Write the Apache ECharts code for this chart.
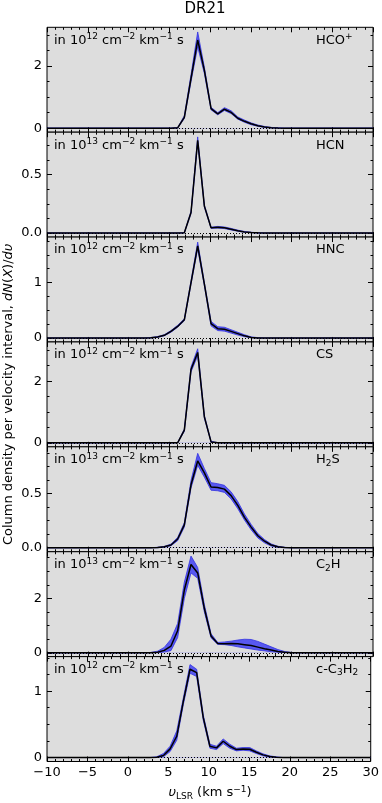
<!DOCTYPE html>
<html>
<head>
<meta charset="UTF-8">
<title>DR21</title>
<script src="https://cdn.jsdelivr.net/npm/echarts@6/dist/echarts.min.js"></script>
<style>
  html, body { margin: 0; padding: 0; background: #fff; }
  #chart { width: 382px; height: 803px; }
</style>
</head>
<body>
<div id="chart"></div>
<script>
  // velocity channels (km/s)
  var vel = [-10, 1.93, 2.75, 3.57, 4.39, 5.21, 6.03, 6.85, 7.67, 8.49, 9.31, 10.13, 10.95,
    11.77, 12.59, 13.41, 14.23, 15.05, 15.87, 16.69, 17.51, 18.33, 19.15, 19.97, 20.79, 30];

  var hcoMid = [0, 0, 0, 0, 0, 0, 0.01, 0.35, 1.6, 2.84, 1.86, 0.63, 0.46, 0.61, 0.51, 0.32, 0.22, 0.14, 0.08, 0.04, 0.015, 0.005, 0, 0, 0, 0];
  var hcoLo = [0, 0, 0, 0, 0, 0, 0, 0.31, 1.5, 2.62, 1.76, 0.59, 0.43, 0.57, 0.47, 0.29, 0.19, 0.11, 0.06, 0.025, 0.008, 0, 0, 0, 0, 0];
  var hcoHi = [0, 0, 0, 0, 0, 0, 0.02, 0.4, 1.72, 3.1, 1.96, 0.67, 0.5, 0.66, 0.56, 0.36, 0.26, 0.17, 0.1, 0.055, 0.025, 0.01, 0, 0, 0, 0];

  var hcnMid = [0, 0, 0, 0, 0, 0, 0, 0.003, 0.175, 0.79, 0.23, 0.045, 0.05, 0.045, 0.033, 0.02, 0.01, 0.005, 0.002, 0, 0, 0, 0, 0, 0, 0];
  var hcnLo = [0, 0, 0, 0, 0, 0, 0, 0, 0.165, 0.77, 0.22, 0.04, 0.043, 0.038, 0.027, 0.016, 0.007, 0.003, 0, 0, 0, 0, 0, 0, 0, 0];
  var hcnHi = [0, 0, 0, 0, 0, 0, 0, 0.005, 0.185, 0.82, 0.24, 0.05, 0.057, 0.052, 0.04, 0.025, 0.014, 0.007, 0.003, 0, 0, 0, 0, 0, 0, 0];

  var hncMid = [0, 0, 0.005, 0.02, 0.05, 0.12, 0.21, 0.33, 1.0, 1.66, 0.97, 0.26, 0.17, 0.16, 0.12, 0.08, 0.04, 0.012, 0.003, 0, 0, 0, 0, 0, 0, 0];
  var hncLo = [0, 0, 0, 0.012, 0.04, 0.105, 0.195, 0.31, 0.97, 1.61, 0.94, 0.22, 0.135, 0.125, 0.09, 0.055, 0.025, 0.005, 0, 0, 0, 0, 0, 0, 0, 0];
  var hncHi = [0, 0, 0.01, 0.028, 0.06, 0.135, 0.23, 0.35, 1.03, 1.73, 1.0, 0.3, 0.205, 0.195, 0.15, 0.105, 0.06, 0.022, 0.008, 0, 0, 0, 0, 0, 0, 0];

  var csMid = [0, 0, 0, 0, 0, 0, 0, 0.41, 2.38, 2.93, 0.84, 0.03, 0, 0, 0, 0, 0, 0, 0, 0, 0, 0, 0, 0, 0, 0];
  var csLo = [0, 0, 0, 0, 0, 0, 0, 0.37, 2.3, 2.82, 0.79, 0.02, 0, 0, 0, 0, 0, 0, 0, 0, 0, 0, 0, 0, 0, 0];
  var csHi = [0, 0, 0, 0, 0, 0, 0.01, 0.45, 2.46, 3.05, 0.89, 0.05, 0.005, 0, 0, 0, 0, 0, 0, 0, 0, 0, 0, 0, 0, 0];

  var h2sMid = [0, 0, 0, 0.002, 0.008, 0.025, 0.08, 0.21, 0.58, 0.8, 0.69, 0.56, 0.555, 0.54, 0.48, 0.39, 0.28, 0.19, 0.11, 0.06, 0.025, 0.008, 0.002, 0, 0, 0];
  var h2sLo = [0, 0, 0, 0, 0.004, 0.018, 0.065, 0.19, 0.55, 0.76, 0.65, 0.53, 0.525, 0.51, 0.45, 0.36, 0.255, 0.165, 0.09, 0.045, 0.015, 0.003, 0, 0, 0, 0];
  var h2sHi = [0, 0, 0, 0.004, 0.012, 0.033, 0.095, 0.23, 0.62, 0.87, 0.73, 0.6, 0.59, 0.575, 0.515, 0.425, 0.31, 0.215, 0.13, 0.075, 0.035, 0.013, 0.004, 0, 0, 0];

  var c2hMid = [0, 0, 0.005, 0.02, 0.09, 0.25, 0.81, 2.31, 3.25, 2.94, 1.63, 0.62, 0.34, 0.33, 0.34, 0.33, 0.3, 0.27, 0.21, 0.15, 0.1, 0.05, 0.02, 0.005, 0, 0];
  var c2hLo = [0, 0, 0, 0.005, 0.03, 0.08, 0.56, 2.0, 2.94, 2.74, 1.5, 0.55, 0.31, 0.3, 0.27, 0.22, 0.18, 0.14, 0.1, 0.07, 0.04, 0.02, 0.005, 0, 0, 0];
  var c2hHi = [0, 0, 0.015, 0.06, 0.2, 0.5, 1.08, 2.6, 3.56, 3.14, 1.77, 0.7, 0.38, 0.4, 0.43, 0.47, 0.5, 0.49, 0.42, 0.32, 0.22, 0.12, 0.05, 0.015, 0, 0];

  var c3h2Mid = [0, 0, 0, 0.005, 0.03, 0.13, 0.32, 0.85, 1.33, 1.28, 0.6, 0.17, 0.145, 0.245, 0.17, 0.12, 0.13, 0.125, 0.08, 0.04, 0.015, 0.005, 0, 0, 0, 0];
  var c3h2Lo = [0, 0, 0, 0, 0.01, 0.09, 0.26, 0.8, 1.27, 1.22, 0.56, 0.14, 0.12, 0.21, 0.14, 0.1, 0.11, 0.1, 0.06, 0.025, 0.005, 0, 0, 0, 0, 0];
  var c3h2Hi = [0, 0, 0, 0.012, 0.06, 0.17, 0.4, 0.9, 1.4, 1.33, 0.64, 0.2, 0.17, 0.28, 0.2, 0.14, 0.15, 0.15, 0.1, 0.055, 0.025, 0.01, 0, 0, 0, 0];

  var mids = [hcoMid, hcnMid, hncMid, csMid, h2sMid, c2hMid, c3h2Mid];
  var los = [hcoLo, hcnLo, hncLo, csLo, h2sLo, c2hLo, c3h2Lo];
  var his = [hcoHi, hcnHi, hncHi, csHi, h2sHi, c2hHi, c3h2Hi];

  var molecules = ['{n|HCO}{sup|+}', '{n|HCN}', '{n|HNC}', '{n|CS}', '{n|H}{sub|2}{n|S}', '{n|C}{sub|2}{n|H}', '{n|c-C}{sub|3}{n|H}{sub|2}'];
  var unitExp = ['12', '13', '12', '12', '13', '13', '12'];

  // y ranges and major tick step per panel
  var yMin = [-0.13, -0.034, -0.07, -0.13, -0.037, -0.14, -0.06];
  var yMax = [3.25, 0.86, 1.82, 3.27, 0.93, 3.72, 1.52];
  var yStep = [2, 0.5, 1, 2, 0.5, 2, 1];
  var xRange = { min: -10, max: 30, step: 5 };

  (function () {
    var FONT = 'DejaVu Sans';
    var BG = '#dddddd';
    var BAND = 'rgb(88,88,240)';
    var BAND_EDGE = 'rgb(50,50,225)';

    var firstTop = 27.3, panelH = (761.5 - 27.3) / 7;

    var richBase = {
      n: { fontSize: 13, fontFamily: FONT, fill: '#000', lineHeight: 16, verticalAlign: 'middle' },
      sup: { fontSize: 9, fontFamily: FONT, fill: '#000', lineHeight: 8, verticalAlign: 'top' },
      sub: { fontSize: 9, fontFamily: FONT, fill: '#000', lineHeight: 8, verticalAlign: 'bottom' },
      i: { fontSize: 13, fontFamily: FONT, fontStyle: 'italic', fill: '#000', lineHeight: 16, verticalAlign: 'middle' }
    };

    function pairs(ys) {
      return vel.map(function (v, k) { return [v, ys[k]]; });
    }

    var grids = [], xAxes = [], yAxes = [], series = [], graphics = [];

    for (var i = 0; i < 7; i++) {
      var panelTop = firstTop + i * panelH;
      grids.push({
        left: 47, right: 9, top: panelTop, height: panelH,
        show: true, backgroundColor: BG, borderColor: '#000', borderWidth: 1
      });

      [0, 1].forEach(function (k) {
        xAxes.push({
          type: 'value', gridIndex: i, position: k === 0 ? 'bottom' : 'top',
          min: xRange.min, max: xRange.max, interval: xRange.step,
          axisLine: { show: false, onZero: false },
          axisTick: { inside: true, length: 5, lineStyle: { color: '#000' } },
          minorTick: { show: true, splitNumber: 5, length: 2.5, lineStyle: { color: '#000' } },
          splitLine: { show: false }, minorSplitLine: { show: false },
          axisLabel: {
            show: k === 0 && i === 6, margin: 5, fontSize: 13, fontFamily: FONT, color: '#000',
            formatter: function (v) { return String(v).replace('-', '\u2212'); }
          }
        });
      });

      var step = yStep[i];
      var majors = [], minors = [];
      for (var t = 0; t <= yMax[i] + 1e-9; t += step) majors.push(+t.toFixed(4));
      for (var m = step / 4; m <= yMax[i] + 1e-9; m += step / 4) {
        var mv = +m.toFixed(4);
        if (Math.abs(mv / step - Math.round(mv / step)) > 1e-6) minors.push(mv);
      }
      var dec = step < 1 ? 1 : 0;

      [['left', majors, 5, true], ['right', majors, 5, false], ['left', minors, 2.5, false], ['right', minors, 2.5, false]].forEach(function (cfg) {
        yAxes.push({
          type: 'value', gridIndex: i, position: cfg[0], min: yMin[i], max: yMax[i],
          axisLine: { show: false, onZero: false },
          splitLine: { show: false },
          axisTick: { show: true, inside: true, length: cfg[2], customValues: cfg[1], lineStyle: { color: '#000' } },
          axisLabel: {
            show: cfg[3], customValues: cfg[1], margin: 5, fontSize: 13, fontFamily: FONT, color: '#000',
            formatter: (function (d) { return function (v) { return v.toFixed(d); }; })(dec)
          }
        });
      });

      var xi = 2 * i, yi = 4 * i;
      series.push({
        type: 'line', xAxisIndex: xi, yAxisIndex: yi, data: pairs(his[i]), symbol: 'none',
        lineStyle: { color: BAND_EDGE, width: 0.8 }, areaStyle: { color: BAND, opacity: 1 }, silent: true
      });
      series.push({
        type: 'line', xAxisIndex: xi, yAxisIndex: yi, data: pairs(los[i]), symbol: 'none',
        lineStyle: { color: BAND_EDGE, width: 0.8 }, areaStyle: { color: BG, opacity: 1 }, silent: true
      });
      series.push({
        type: 'line', xAxisIndex: xi, yAxisIndex: yi, data: pairs(mids[i]), symbol: 'none',
        lineStyle: { color: '#000', width: 1.5 }, silent: true,
        markLine: {
          silent: true, symbol: 'none', label: { show: false },
          lineStyle: { color: '#000', type: [1, 2], width: 1 },
          data: [{ yAxis: 0 }]
        }
      });

      graphics.push({
        type: 'text', x: 54, y: panelTop + 13,
        style: {
          text: '{n|in 10}{sup|' + unitExp[i] + '}{n| cm}{sup|\u22122}{n| km}{sup|\u22121}{n| s}',
          rich: richBase, align: 'left', verticalAlign: 'middle'
        }
      });
      graphics.push({
        type: 'text', x: 316, y: panelTop + 13,
        style: { text: molecules[i], rich: richBase, align: 'left', verticalAlign: 'middle' }
      });
    }

    graphics.push({
      type: 'text', x: 205, y: 9,
      style: { text: 'DR21', fontSize: 15, fontFamily: FONT, fill: '#000', align: 'center', verticalAlign: 'middle' }
    });
    graphics.push({
      type: 'text', x: 210, y: 793,
      style: {
        text: '{i|\u03c5}{sub|LSR}{n| (km s}{sup|\u22121}{n|)}',
        rich: richBase, align: 'center', verticalAlign: 'middle'
      }
    });
    graphics.push({
      type: 'text', x: 9, y: firstTop + 3.5 * panelH, rotation: Math.PI / 2,
      style: {
        text: '{n|Column density per velocity interval, }{i|dN}{n|(}{i|X}{n|)/}{i|d\u03c5}',
        rich: richBase, align: 'center', verticalAlign: 'middle'
      }
    });

    var chart = echarts.init(document.getElementById('chart'));
    chart.setOption({
      animation: false,
      grid: grids,
      xAxis: xAxes,
      yAxis: yAxes,
      series: series,
      graphic: graphics
    });
  })();
</script>
</body>
</html>
